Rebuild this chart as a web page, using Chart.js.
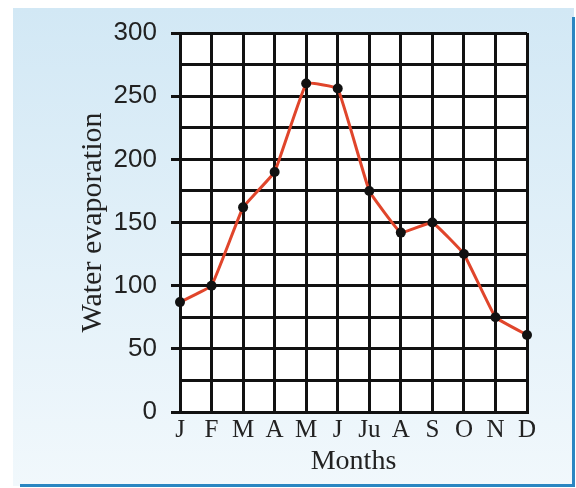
<!DOCTYPE html>
<html>
<head>
<meta charset="utf-8">
<title>Water evaporation by month</title>
<script src="https://cdn.jsdelivr.net/npm/chart.js@4/dist/chart.umd.min.js"></script>
<style>
  html, body { margin: 0; padding: 0; background: #ffffff; }
  #wrap { width: 576px; height: 488px; }
</style>
</head>
<body>
<div id="wrap"><canvas id="chart" width="576" height="488"></canvas></div>
<script>
const months = ["J", "F", "M", "A", "M", "J", "Ju", "A", "S", "O", "N", "D"];
const evaporation = [87, 100, 162, 190, 260, 256, 175, 142, 150, 125, 75, 61];
const yMin = 0;
const yMax = 300;
const yStep = 25;

// light blue panel behind the chart, white plot area, blue edge on right and bottom
const panelPlugin = {
    id: "panel",
    beforeDraw(chart) {
        const ctx = chart.ctx;
        const area = chart.chartArea;
        ctx.save();
        const grad = ctx.createLinearGradient(0, 8, 0, 486);
        grad.addColorStop(0, "#d2e8f5");
        grad.addColorStop(1, "#f1f8fc");
        ctx.fillStyle = grad;
        ctx.fillRect(13, 8, 561, 478);
        ctx.fillStyle = "#ffffff";
        ctx.fillRect(area.left, area.top, area.right - area.left, area.bottom - area.top);
        ctx.strokeStyle = "#2a86c2";
        ctx.lineWidth = 3;
        ctx.beginPath();
        ctx.moveTo(573.5, 17);
        ctx.lineTo(573.5, 486);
        ctx.moveTo(20, 485.5);
        ctx.lineTo(575, 485.5);
        ctx.stroke();
        ctx.restore();
    }
};

const ctx = document.getElementById("chart").getContext("2d");
new Chart(ctx, {
    type: "line",
    data: {
        labels: months,
        datasets: [{
            data: evaporation,
            borderColor: "#e0452b",
            borderWidth: 3,
            tension: 0.08,
            pointRadius: 5,
            pointBackgroundColor: "#111111",
            pointBorderColor: "#111111",
            pointBorderWidth: 0,
            clip: false
        }]
    },
    options: {
        responsive: false,
        devicePixelRatio: 1,
        animation: false,
        layout: {
            padding: {left: 71, right: 49, top: 33, bottom: 6}
        },
        plugins: {
            legend: {display: false},
            tooltip: {enabled: false}
        },
        scales: {
            x: {
                offset: false,
                afterFit: (scale) => { scale.height = 70; },
                grid: {
                    color: "#111111",
                    lineWidth: 3,
                    drawTicks: false
                },
                border: {color: "#111111", width: 3},
                ticks: {
                    autoSkip: false,
                    maxRotation: 0,
                    padding: 3,
                    color: "#222222",
                    font: {family: "Liberation Serif", size: 25}
                },
                title: {
                    display: true,
                    text: "Months",
                    color: "#222222",
                    font: {family: "Liberation Serif", size: 28}
                }
            },
            y: {
                min: yMin,
                max: yMax,
                afterFit: (scale) => { scale.width = 109; },
                grid: {
                    color: "#111111",
                    lineWidth: 3,
                    tickLength: 9,
                    tickColor: (c) => (c.tick && c.tick.value % 50 === 0 ? "#111111" : "rgba(0,0,0,0)"),
                    tickWidth: 3
                },
                border: {color: "#111111", width: 3},
                ticks: {
                    stepSize: yStep,
                    autoSkip: false,
                    padding: 14,
                    color: "#222222",
                    font: {family: "Liberation Sans", size: 26},
                    callback: (v) => (v % 50 === 0 ? v : "")
                },
                title: {
                    display: true,
                    text: "Water evaporation",
                    color: "#222222",
                    font: {family: "Liberation Serif", size: 30}
                }
            }
        }
    },
    plugins: [panelPlugin]
});
</script>
</body>
</html>
